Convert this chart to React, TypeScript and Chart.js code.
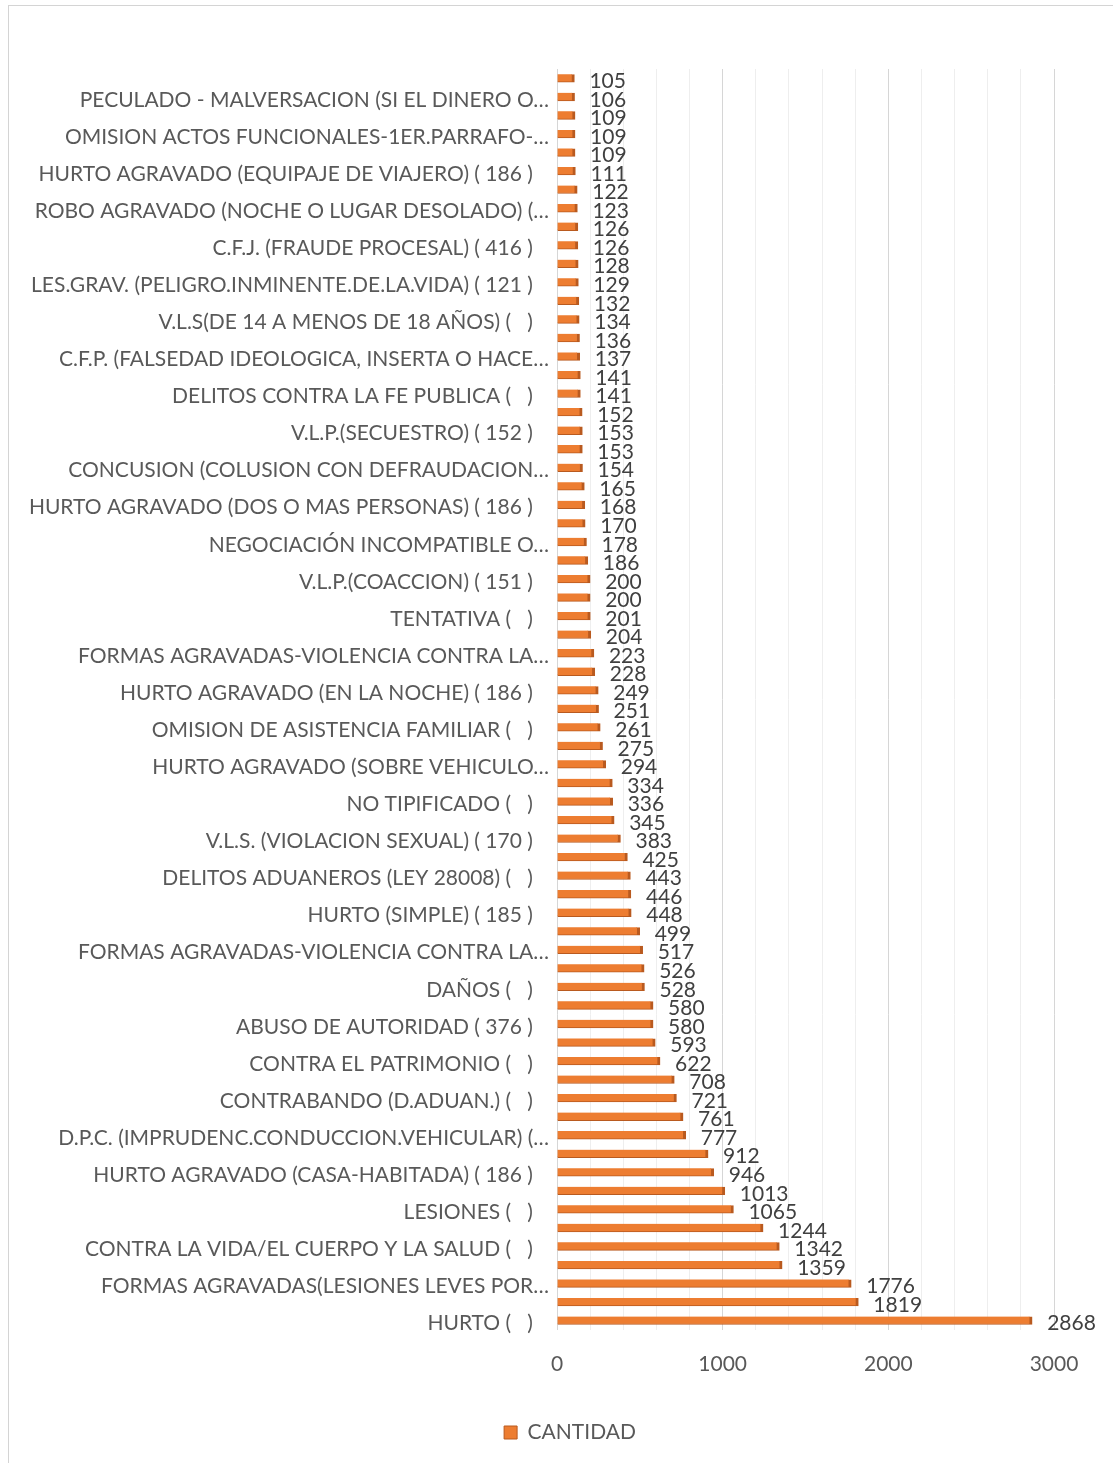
import React, { useEffect, useRef } from "react";
import { Chart, registerables } from "chart.js";

Chart.register(...registerables);

const categories: string[] = [
  "",
  "PECULADO - MALVERSACION (SI EL DINERO O…",
  "",
  "OMISION ACTOS FUNCIONALES-1ER.PARRAFO-…",
  "",
  "HURTO AGRAVADO (EQUIPAJE DE VIAJERO) ( 186 )",
  "",
  "ROBO AGRAVADO (NOCHE O LUGAR DESOLADO) (…",
  "",
  "C.F.J. (FRAUDE PROCESAL) ( 416 )",
  "",
  "LES.GRAV. (PELIGRO.INMINENTE.DE.LA.VIDA) ( 121 )",
  "",
  "V.L.S(DE 14 A MENOS DE 18 AÑOS) (   )",
  "",
  "C.F.P. (FALSEDAD IDEOLOGICA, INSERTA O HACE…",
  "",
  "DELITOS CONTRA LA FE PUBLICA (   )",
  "",
  "V.L.P.(SECUESTRO) ( 152 )",
  "",
  "CONCUSION (COLUSION CON DEFRAUDACION…",
  "",
  "HURTO AGRAVADO (DOS O MAS PERSONAS) ( 186 )",
  "",
  "NEGOCIACIÓN INCOMPATIBLE O…",
  "",
  "V.L.P.(COACCION) ( 151 )",
  "",
  "TENTATIVA (   )",
  "",
  "FORMAS AGRAVADAS-VIOLENCIA CONTRA LA…",
  "",
  "HURTO AGRAVADO (EN LA NOCHE) ( 186 )",
  "",
  "OMISION DE ASISTENCIA FAMILIAR (   )",
  "",
  "HURTO AGRAVADO (SOBRE VEHICULO…",
  "",
  "NO TIPIFICADO (   )",
  "",
  "V.L.S. (VIOLACION SEXUAL) ( 170 )",
  "",
  "DELITOS ADUANEROS (LEY 28008) (   )",
  "",
  "HURTO (SIMPLE) ( 185 )",
  "",
  "FORMAS AGRAVADAS-VIOLENCIA CONTRA LA…",
  "",
  "DAÑOS (   )",
  "",
  "ABUSO DE AUTORIDAD ( 376 )",
  "",
  "CONTRA EL PATRIMONIO (   )",
  "",
  "CONTRABANDO (D.ADUAN.) (   )",
  "",
  "D.P.C. (IMPRUDENC.CONDUCCION.VEHICULAR) (…",
  "",
  "HURTO AGRAVADO (CASA-HABITADA) ( 186 )",
  "",
  "LESIONES (   )",
  "",
  "CONTRA LA VIDA/EL CUERPO Y LA SALUD (   )",
  "",
  "FORMAS AGRAVADAS(LESIONES LEVES POR…",
  "",
  "HURTO (   )",
];

const cantidad: number[] = [
  105, 106, 109, 109, 109, 111, 122, 123, 126, 126, 128, 129, 132, 134, 136,
  137, 141, 141, 152, 153, 153, 154, 165, 168, 170, 178, 186, 200, 200, 201,
  204, 223, 228, 249, 251, 261, 275, 294, 334, 336, 345, 383, 425, 443, 446,
  448, 499, 517, 526, 528, 580, 580, 593, 622, 708, 721, 761, 777, 912, 946,
  1013, 1065, 1244, 1342, 1359, 1776, 1819, 2868,
];

const seriesName = "CANTIDAD";
const xTickLabels: number[] = [0, 1000, 2000, 3000];

const FONT = "Lato, 'Open Sans', sans-serif";

const valueLabels = {
  id: "valueLabels",
  afterDatasetsDraw(chart: any) {
    const ctx = chart.ctx;
    const meta = chart.getDatasetMeta(0);
    ctx.save();
    ctx.font = `21px ${FONT}`;
    ctx.fillStyle = "#404040";
    ctx.textAlign = "left";
    ctx.textBaseline = "middle";
    meta.data.forEach((bar: any, i: number) => {
      const v = chart.data.datasets[0].data[i];
      ctx.fillText(String(v), bar.x + 15, bar.y + 3);
    });
    ctx.restore();
  },
};

const legendCenter = {
  id: "legendCenter",
  afterLayout(chart: any) {
    const lg = chart.legend;
    if (!lg) return;
    const shift = 570 - (lg.left + lg.right) / 2;
    lg.left += shift;
    lg.right += shift;
  },
};

export default function App() {
  const ref = useRef<HTMLCanvasElement | null>(null);

  useEffect(() => {
    if (!ref.current) return;
    const chart = new Chart(ref.current, {
      type: "bar",
      data: {
        labels: categories,
        datasets: [
          {
            label: seriesName,
            data: cantidad,
            backgroundColor: "#ED7D31",
            borderColor: "#B95A1F",
            borderWidth: { top: 0, right: 3, bottom: 1, left: 0 },
            borderSkipped: false,
            barThickness: 8,
          },
        ],
      },
      options: {
        indexAxis: "y",
        responsive: false,
        animation: false,
        layout: { padding: { left: 0, right: 59, top: 69, bottom: 10 } },
        scales: {
          x: {
            min: 0,
            max: 3000,
            border: { display: false },
            grid: {
              drawTicks: false,
              color: (c: any) =>
                c.tick && c.tick.value % 1000 === 0 ? "#d6d6d6" : "#eeeeee",
              lineWidth: 1,
            },
            ticks: {
              stepSize: 200,
              autoSkip: false,
              maxRotation: 0,
              padding: 22,
              color: "#595959",
              font: { family: FONT, size: 21 },
              callback: (v: any) =>
                xTickLabels.includes(Number(v)) ? String(v) : "",
            },
          },
          y: {
            border: { display: false },
            grid: { display: false, drawTicks: false },
            afterFit: (scale: any) => {
              scale.width = 557;
            },
            ticks: {
              autoSkip: false,
              padding: 8,
              labelOffset: 3,
              color: "#595959",
              font: { family: FONT, size: 21 },
              callback: (_v: any, i: number) => {
                const s = categories[i];
                if (!s) return "";
                return s.endsWith("…") ? s : s + "   ";
              },
            },
          },
        },
        plugins: {
          legend: {
            position: "bottom",
            labels: {
              boxWidth: 13,
              boxHeight: 13,
              padding: 23,
              color: "#595959",
              font: { family: FONT, size: 21 },
            },
          },
          tooltip: { enabled: false },
        },
      },
      plugins: [valueLabels, legendCenter],
    });
    return () => chart.destroy();
  }, []);

  return (
    <div
      style={{
        position: "absolute",
        left: 0,
        top: 0,
        width: 1113,
        height: 1463,
        overflow: "hidden",
        background: "#fff",
      }}
    >
      <div
        style={{
          position: "absolute",
          left: 8,
          top: 5,
          width: 1200,
          height: 1600,
          borderLeft: "1px solid #d4d4d4",
          borderTop: "1px solid #d4d4d4",
        }}
      />
      <canvas
        ref={ref}
        width={1113}
        height={1463}
        style={{ position: "absolute", left: 0, top: 0 }}
      />
    </div>
  );
}
